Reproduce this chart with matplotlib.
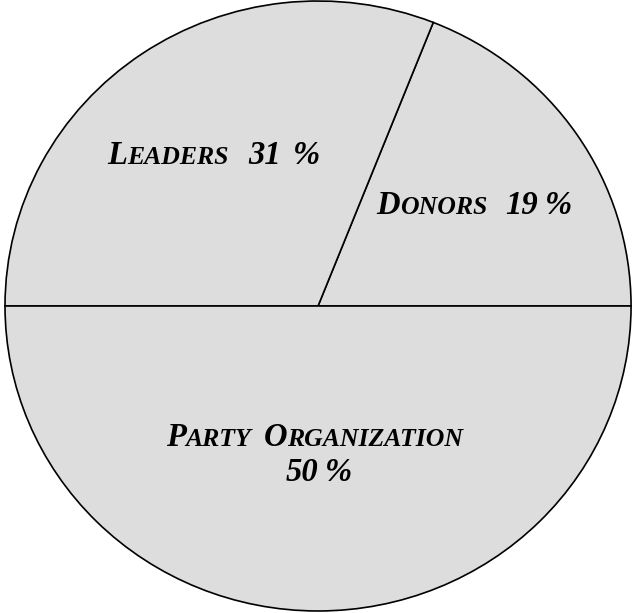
import matplotlib.pyplot as plt

# share of party funding by source
labels = ['Donors', 'Leaders', 'Party Organization']
shares = [19, 31, 50]

W, H = 632, 613
fig = plt.figure(figsize=(W / 100, H / 100), dpi=100)
ax = fig.add_axes([0, 0, 1, 1])
ax.pie(shares, startangle=0, counterclock=True, colors=['#dddddd'] * 3,
       wedgeprops=dict(edgecolor='black', linewidth=1.2))
ax.set_aspect('auto')
ax.set_xlim(-1.016, 1.003)
ax.set_ylim(-1.0066, 1.0033)
ax.axis('off')

font = dict(family='Liberation Serif', weight='bold', style='italic', color='black')
big, small = 23.5, 18.5
renderer = fig.canvas.get_renderer()


def small_caps(word):
    return [(word[0].upper(), big), (word[1:].upper(), small)]


def draw_line(parts, cx, base_y):
    # parts are (text, size) pairs or plain numbers for a pixel gap
    widths = []
    for p in parts:
        if isinstance(p, (int, float)):
            widths.append(p)
            continue
        t = fig.text(0, 0, p[0], fontsize=p[1], **font)
        widths.append(t.get_window_extent(renderer).width)
        t.remove()
    x = cx - sum(widths) / 2
    for p, w in zip(parts, widths):
        if not isinstance(p, (int, float)):
            fig.text(x / W, 1 - base_y / H, p[0], fontsize=p[1],
                     ha='left', va='baseline', **font)
        x += w


pct = [f'{s}' for s in shares]
draw_line(small_caps('Leaders') + [20, (pct[1], big), 11, ('%', big)], 213.5, 164)
draw_line(small_caps('Donors') + [18, (pct[0], big), 7, ('%', big)], 474.5, 214)
draw_line(small_caps('Party') + [12] + small_caps('Organization'), 314.5, 446)
draw_line([(pct[2], big), 7, ('%', big)], 319, 481)

fig.savefig('out.png', dpi=100)
